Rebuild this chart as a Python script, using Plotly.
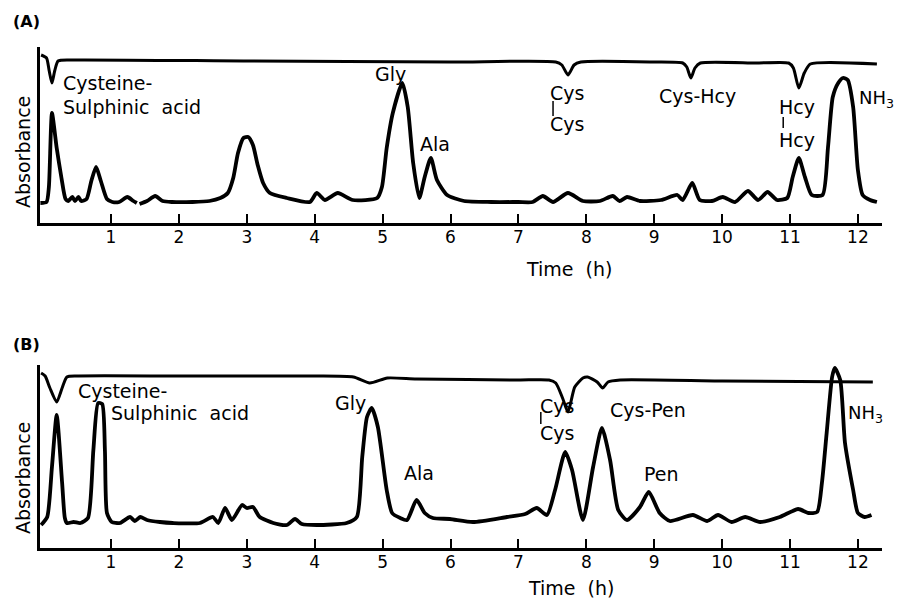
import plotly.graph_objects as go

# ---------------- data (time in h, absorbance in arbitrary units) ----------------
tick_hours = [1, 2, 3, 4, 5, 6, 7, 8, 9, 10, 11, 12]

# Panel A - lower (chromatogram) trace
a_low_t = [-0.04, 0.05, 0.085, 0.13, 0.2, 0.27, 0.33, 0.37, 0.43, 0.47, 0.52, 0.56, 0.64, 0.71, 0.78,
           0.85, 0.94, 1.02, 1.12, 1.24, 1.33, 1.38, None, 1.42, 1.53, 1.65, 1.76, 1.9, 2.2, 2.45,
           2.61, 2.72, 2.80, 2.87, 2.95, 3.02, 3.09, 3.16, 3.24, 3.34, 3.59, 3.93, 4.03, 4.15, 4.34,
           4.56, 4.92, 4.99, 5.06, 5.15, 5.29, 5.37, 5.45, 5.54, 5.62, 5.71, 5.80, 5.95, 6.2, 6.6,
           7.0, 7.21, 7.36, 7.51, 7.73, 7.95, 8.2, 8.39, 8.49, 8.6, 8.79, 9.1, 9.34, 9.42, 9.56,
           9.67, 9.85, 10.01, 10.19, 10.38, 10.53, 10.67, 10.81, 10.96, 11.04, 11.13, 11.22, 11.32,
           11.48, 11.56, 11.63, 11.71, 11.78, 11.85, 11.93, 12.0, 12.07, 12.18, 12.28]
a_low_v = [20, 21, 36, 110, 75, 45, 24, 22, 26, 22, 26, 22, 24, 42, 56,
           42, 24, 21, 21, 26, 22, 20, None, 19, 22, 27, 22, 21, 21, 22,
           25, 30, 45, 70, 85, 86, 78, 58, 40, 30, 25, 21, 30, 23, 30,
           23, 25, 36, 75, 110, 140, 116, 60, 25, 46, 65, 43, 28, 22, 21,
           21, 21, 27, 21, 30, 22, 22, 27, 22, 26, 22, 23, 28, 23, 40,
           23, 22, 26, 21, 32, 23, 31, 23, 25, 46, 65, 46, 28,
           28, 76, 126, 140, 145, 143, 116, 53, 28, 23, 21]

# Panel A - upper (reference) trace
a_up_t = [-0.03, 0.05, 0.09, 0.13, 0.17, 0.22, 0.4, 3.0, 6.0, 7.55, 7.64, 7.73, 7.82, 7.92, 9.0,
          9.42, 9.48, 9.54, 9.6, 9.68, 10.5, 10.98, 11.05, 11.13, 11.21, 11.3, 12.28]
a_up_v = [168, 165, 152, 140, 152, 162, 163, 162, 161, 161, 158, 148, 158, 161, 161,
          160, 156, 145, 155, 160, 160, 160, 155, 135, 150, 159, 159]

# Panel B - lower (chromatogram) trace
b_low_t = [-0.03, 0.06, 0.13, 0.2, 0.28, 0.32, 0.35, 0.45, 0.55, 0.66, 0.74, 0.81, 0.87, 0.91, 0.94,
           1.01, 1.13, 1.28, 1.35, 1.43, 1.53, 1.72, 1.91, 2.31, 2.5, 2.58, 2.68, 2.78, 2.93, 3.0,
           3.09, 3.19, 3.39, 3.59, 3.71, 3.81, 4.03, 4.47, 4.62, 4.70, 4.77, 4.84, 4.93, 5.06, 5.14,
           5.26, 5.36, 5.5, 5.62, 5.74, 5.99, 6.33, 6.83, 7.1, 7.27, 7.42, 7.54, 7.69, 7.79, 7.95,
           8.1, 8.23, 8.35, 8.47, 8.6, 8.79, 8.92, 9.08, 9.23, 9.57, 9.78, 9.94, 10.14, 10.34, 10.56,
           10.85, 11.12, 11.27, 11.4, 11.47, 11.54, 11.62, 11.66, 11.74, 11.81, 11.93, 12.0, 12.1, 12.2]
b_low_v = [23, 31, 81, 133, 65, 30, 25, 26, 25, 30, 98, 145, 144, 98, 35,
           26, 25, 31, 27, 31, 28, 26, 25, 25, 31, 25, 40, 28, 43, 40,
           41, 31, 25, 23, 29, 24, 23, 25, 31, 91, 131, 140, 121, 58, 35,
           30, 28, 48, 35, 30, 29, 26, 31, 34, 40, 33, 58, 96, 78, 28,
           81, 120, 88, 38, 28, 41, 56, 35, 27, 33, 27, 33, 26, 31, 26,
           31, 39, 35, 36, 65, 115, 171, 180, 168, 105, 58, 35, 31, 33]

# Panel B - upper (reference) trace
b_up_t = [-0.03, 0.03, 0.1, 0.2, 0.28, 0.35, 0.5, 2.0, 4.0, 4.57, 4.81, 5.07, 5.5, 7.0, 7.45,
          7.55, 7.65, 7.73, 7.83, 7.95, 8.02, 8.16, 8.24, 8.32, 8.5, 10.0, 12.22]
b_up_v = [175, 172, 160, 146, 160, 171, 172, 172, 172, 171, 165, 170, 169, 168, 168,
          165, 150, 136, 161, 170, 171, 166, 160, 166, 168, 167, 166]

# ---------------- figure ----------------
FONT = "DejaVu Sans"
W, H = 904, 598
XR = [-0.046, 12.355]
XDOM = [40 / W, 882 / W]
A_RANGE, A_DOM = [0, 176], [(H - 223) / H, (H - 47) / H]
B_RANGE, B_DOM = [0, 183], [(H - 548) / H, (H - 365) / H]

fig = go.Figure()
line_low = dict(color="black", width=3.8, shape="spline", smoothing=0.6)
line_up = dict(color="black", width=3, shape="spline", smoothing=0.6)

fig.add_trace(go.Scatter(x=a_low_t, y=a_low_v, mode="lines", line=line_low, xaxis="x", yaxis="y",
                         connectgaps=False, hoverinfo="skip"))
fig.add_trace(go.Scatter(x=a_up_t, y=a_up_v, mode="lines", line=line_up, xaxis="x", yaxis="y",
                         hoverinfo="skip"))
fig.add_trace(go.Scatter(x=b_low_t, y=b_low_v, mode="lines", line=line_low, xaxis="x2", yaxis="y2",
                         hoverinfo="skip"))
fig.add_trace(go.Scatter(x=b_up_t, y=b_up_v, mode="lines", line=line_up, xaxis="x2", yaxis="y2",
                         hoverinfo="skip"))

xaxis_common = dict(range=XR, domain=XDOM, showgrid=False, zeroline=False, showline=True,
                    linecolor="black", linewidth=3, ticks="inside", ticklen=9, tickwidth=2,
                    tickcolor="black", tickvals=tick_hours,
                    ticktext=[str(v) for v in tick_hours],
                    tickfont=dict(family=FONT, size=17, color="black"), ticklabelstandoff=-3)
yaxis_common = dict(showgrid=False, zeroline=False, showline=True, linecolor="black", linewidth=3,
                    ticks="", showticklabels=False)

fig.update_layout(
    width=W, height=H, margin=dict(l=0, r=0, t=0, b=0),
    paper_bgcolor="white", plot_bgcolor="white", showlegend=False,
    xaxis=dict(**xaxis_common, anchor="y"),
    yaxis=dict(**yaxis_common, range=A_RANGE, domain=A_DOM, anchor="x"),
    xaxis2=dict(**xaxis_common, anchor="y2"),
    yaxis2=dict(**yaxis_common, range=B_RANGE, domain=B_DOM, anchor="x2"),
)

LS = 19  # label font size


def label(text, x, y, xr, yr, xanchor="center", size=LS):
    fig.add_annotation(text=text, x=x, y=y, xref=xr, yref=yr, showarrow=False,
                       xanchor=xanchor, yanchor="middle",
                       font=dict(family=FONT, size=size, color="black"))


# Panel A labels
label("Cysteine-", 0.26, 140, "x", "y", "left")
label("Sulphinic  acid", 0.26, 116, "x", "y", "left")
label("Gly", 5.12, 149, "x", "y")
label("Ala", 5.77, 79, "x", "y")
label("Cys", 7.71, 130, "x", "y")
label("Cys", 7.71, 99, "x", "y")
label("Cys-Hcy", 9.64, 127, "x", "y")
label("Hcy", 11.10, 116, "x", "y")
label("Hcy", 11.10, 83, "x", "y")
label("NH<sub>3</sub>", 11.98, 124, "x", "y", "left", 18)
fig.add_shape(type="line", xref="x", yref="y", x0=7.51, x1=7.51, y0=107, y1=122,
              line=dict(color="black", width=1.5))
fig.add_shape(type="line", xref="x", yref="y", x0=10.90, x1=10.90, y0=95, y1=106,
              line=dict(color="black", width=1.5))

# Panel B labels
label("Cysteine-", 0.48, 157, "x2", "y2", "left")
label("Sulphinic  acid", 0.97, 135, "x2", "y2", "left")
label("Gly", 4.52, 145, "x2", "y2")
label("Ala", 5.54, 75, "x2", "y2")
label("Cys", 7.57, 142, "x2", "y2")
label("Cys", 7.57, 115, "x2", "y2")
label("Cys-Pen", 8.91, 138, "x2", "y2")
label("Pen", 9.11, 74, "x2", "y2")
label("NH<sub>3</sub>", 11.83, 134, "x2", "y2", "left", 18)
fig.add_shape(type="line", xref="x2", yref="y2", x0=7.33, x1=7.33, y0=124, y1=136,
              line=dict(color="black", width=1.5))


# Panel letters, axis titles (paper coordinates)
def paper_label(text, px, py, angle=0, size=LS, bold=False):
    fig.add_annotation(text=f"<b>{text}</b>" if bold else text, x=px / W, y=1 - py / H,
                       xref="paper", yref="paper", showarrow=False, textangle=angle,
                       xanchor="center", yanchor="middle",
                       font=dict(family=FONT, size=size, color="black"))


paper_label("(A)", 26, 22, size=16, bold=True)
paper_label("(B)", 26, 345, size=16, bold=True)
paper_label("Time  (h)", 569, 269)
paper_label("Time  (h)", 571, 588)
paper_label("Absorbance", 23, 152, angle=-90)
paper_label("Absorbance", 23, 478, angle=-90)

fig.write_html("out.html", config={"displayModeBar": False},
               post_script="document.body.style.margin='0';")
